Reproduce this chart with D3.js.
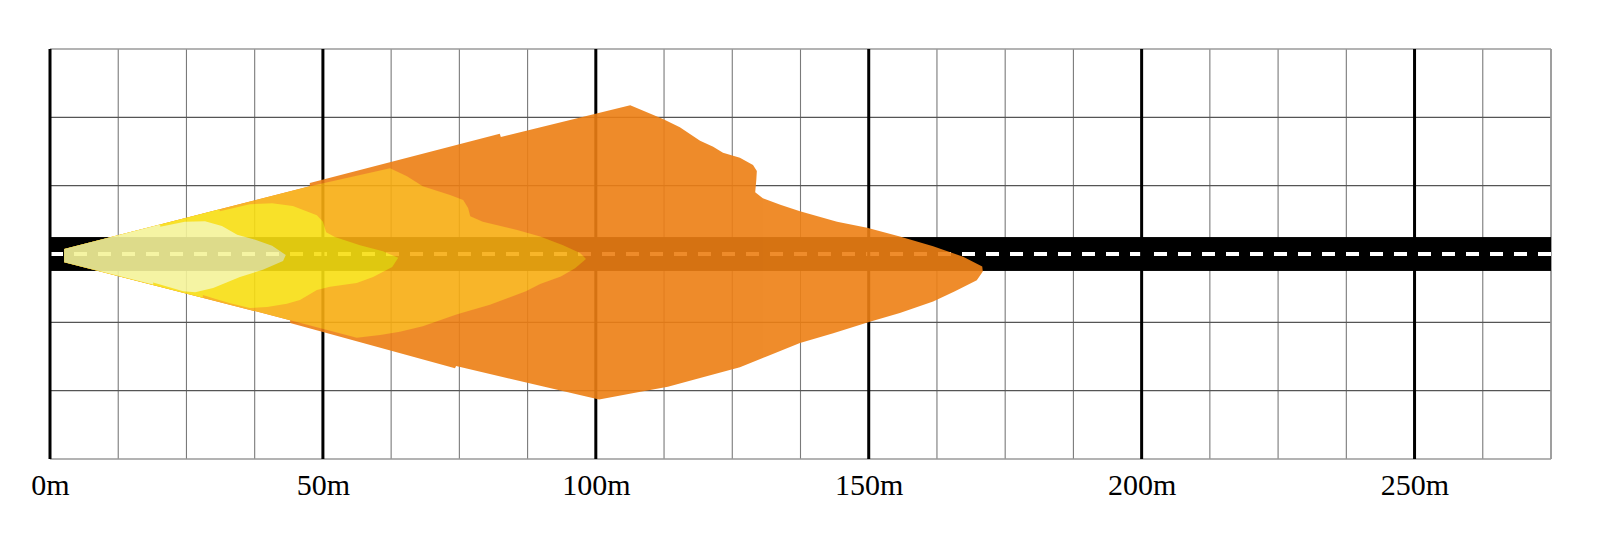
<!DOCTYPE html>
<html>
<head>
<meta charset="utf-8">
<script src="https://cdn.jsdelivr.net/npm/d3@7/dist/d3.min.js"></script>
<style>
  html, body { margin: 0; padding: 0; background: #ffffff; }
  svg { display: block; }
</style>
</head>
<body>
<svg id="chart" width="1600" height="537"></svg>
<script>
// ---------- data (metres) ----------
const xTicks = [0, 50, 100, 150, 200, 250];
const xTickLabels = ["0m", "50m", "100m", "150m", "200m", "250m"];
const xDomain = [0, 275];
const yDomain = [-37.5, 37.5];
const gridStep = 12.5;
const roadHalfWidth = 3.1;

// light distribution zones, [distance along road, lateral offset]
const orangeZone = [
  [2.6, 0.9], [47.6, 12.4], [47.6, 13.0], [82.4, 22.0], [82.6, 21.4], [106.3, 27.2],
  [107.5, 26.7], [112.3, 24.7], [115.4, 23.2], [119.1, 20.7], [121.5, 19.6], [123.3, 18.5],
  [126.4, 17.6], [128.8, 16.3], [129.5, 15.2], [129.4, 13.5], [129.2, 11.3], [130.6, 10.2],
  [133.8, 9.0], [137.4, 7.8], [144.2, 5.9], [149.7, 4.8], [155.7, 3.2], [161.8, 1.4],
  [167.3, -0.5], [170.8, -2.3], [170.9, -3.2], [169.8, -4.8], [165.8, -6.8], [161.8, -8.7],
  [155.7, -10.8], [150.2, -12.4], [143.5, -14.5], [137.4, -16.3], [131.4, -18.7], [126.4, -20.7],
  [119.1, -22.7], [113.2, -24.3], [107.2, -25.4], [100.6, -26.6], [74.4, -20.5], [74.2, -20.9],
  [44.0, -12.6], [44.0, -12.1], [2.6, -1.5]
];
const goldZone = [
  [2.6, 0.9], [47.6, 12.4], [62.3, 15.7], [65.4, 14.2], [68.3, 12.4], [73.3, 10.8],
  [75.7, 9.9], [76.6, 8.4], [77.0, 6.9], [79.3, 5.9], [85.6, 4.4], [89.8, 3.2],
  [94.0, 1.6], [97.1, 0.2], [98.2, -0.9], [96.2, -2.6], [93.6, -4.1], [89.8, -5.5],
  [87.2, -6.8], [80.6, -9.3], [74.6, -11.0], [68.3, -13.2], [64.1, -14.2], [60.5, -14.8],
  [56.2, -15.3], [44.0, -12.1], [2.6, -1.5]
];
const yellowZone = [
  [2.6, 0.9], [31.1, 8.2], [31.1, 7.8], [36.6, 9.1], [40.7, 9.3], [44.5, 8.8],
  [48.9, 7.1], [50.0, 5.9], [50.6, 4.0], [52.2, 3.1], [56.8, 1.6], [61.0, 0.5],
  [63.8, -0.7], [62.7, -2.4], [59.2, -4.2], [56.2, -5.3], [51.3, -6.0], [48.9, -6.6],
  [45.8, -8.4], [43.4, -9.1], [39.8, -9.7], [36.6, -9.9], [33.0, -9.0], [30.2, -8.2],
  [28.0, -7.5], [28.0, -8.0], [2.6, -1.5]
];
const paleZone = [
  [2.6, 0.9], [20.2, 5.4], [20.2, 5.0], [24.7, 5.9], [28.4, 6.0], [31.5, 5.1],
  [34.3, 3.5], [37.6, 2.6], [40.7, 1.5], [43.2, -0.2], [42.7, -1.3], [39.0, -2.9],
  [34.8, -4.2], [29.9, -6.2], [26.6, -7.0], [24.4, -6.8], [18.9, -5.2], [18.9, -5.6],
  [2.6, -1.5]
];
const zones = [orangeZone, goldZone, yellowZone, paleZone];
const zoneColors = ["#ed7f14", "#f8ad12", "#f8de12", "#f5f39a"];

// ---------- drawing ----------
const svg = d3.select("#chart");
const x = d3.scaleLinear().domain(xDomain).range([50, 1551]);
const y = d3.scaleLinear().domain(yDomain).range([459, 49]);

const gridX = d3.range(xDomain[0], xDomain[1] + 0.001, gridStep);
const gridY = d3.range(yDomain[0], yDomain[1] + 0.001, gridStep);
const isMajor = v => xTicks.includes(v);

const grid = svg.append("g");
// minor verticals
grid.selectAll("line.vminor").data(gridX.filter(v => !isMajor(v))).join("line")
  .attr("x1", d => x(d)).attr("x2", d => x(d))
  .attr("y1", y(yDomain[1])).attr("y2", y(yDomain[0]))
  .attr("stroke", "#7a7a7a").attr("stroke-width", 1.1);
// horizontals (centre line lies under the road)
grid.selectAll("line.h").data(gridY.filter(v => v !== 0)).join("line")
  .attr("x1", x(xDomain[0])).attr("x2", x(xDomain[1]))
  .attr("y1", d => y(d)).attr("y2", d => y(d))
  .attr("stroke", d => (d === yDomain[0] || d === yDomain[1]) ? "#9a9a9a" : "#555")
  .attr("stroke-width", d => (d === yDomain[0] || d === yDomain[1]) ? 1.6 : 1.1);
// right border
grid.append("line")
  .attr("x1", x(xDomain[1])).attr("x2", x(xDomain[1]))
  .attr("y1", y(yDomain[1])).attr("y2", y(yDomain[0]))
  .attr("stroke", "#9a9a9a").attr("stroke-width", 1.6);

// road
svg.append("rect")
  .attr("x", x(0) - 1).attr("width", x(xDomain[1]) - x(0) + 1)
  .attr("y", y(roadHalfWidth)).attr("height", y(-roadHalfWidth) - y(roadHalfWidth))
  .attr("fill", "#000");
svg.append("line")
  .attr("x1", x(0)).attr("x2", x(xDomain[1]))
  .attr("y1", y(0)).attr("y2", y(0))
  .attr("stroke", "#fff").attr("stroke-width", 4)
  .attr("stroke-dasharray", "13,11");

// major verticals
svg.selectAll("line.vmajor").data(gridX.filter(isMajor)).join("line")
  .attr("x1", d => x(d)).attr("x2", d => x(d))
  .attr("y1", y(yDomain[1])).attr("y2", y(yDomain[0]))
  .attr("stroke", "#000").attr("stroke-width", 3);

// light zones (composited together, then made translucent)
const line = d3.line().x(d => x(d[0])).y(d => y(d[1]));
const zg = svg.append("g").attr("opacity", 0.9);
zg.selectAll("path").data(zones).join("path")
  .attr("d", d => line(d) + "Z")
  .attr("fill", (d, i) => zoneColors[i]);

// axis labels
const axis = d3.axisBottom(x)
  .tickValues(xTicks)
  .tickSize(0)
  .tickPadding(15)
  .tickFormat((d, i) => xTickLabels[i]);
const ag = svg.append("g").attr("transform", `translate(0,${y(yDomain[0])})`).call(axis);
ag.select(".domain").remove();
ag.selectAll("text")
  .attr("font-family", "'Liberation Serif', 'Times New Roman', serif")
  .attr("font-size", 30)
  .attr("fill", "#000");
</script>
</body>
</html>
